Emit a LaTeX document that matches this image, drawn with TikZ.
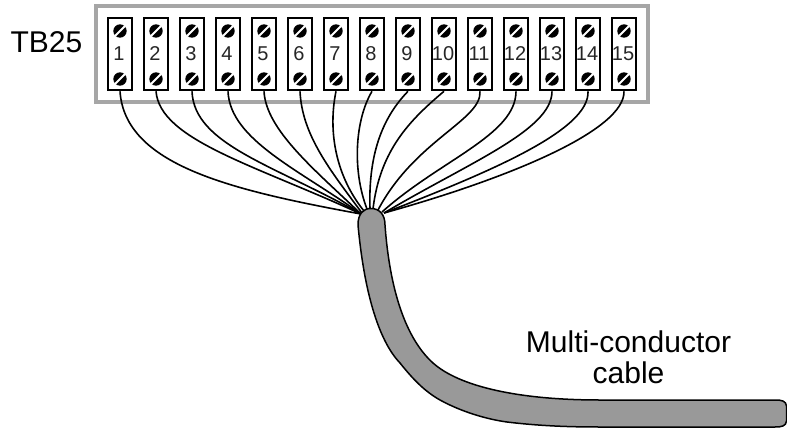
\documentclass[tikz,border=0pt]{standalone}
\usepackage{fontspec}
\setmainfont{Liberation Sans}
\usetikzlibrary{calc}
\definecolor{cablegray}{HTML}{999999}
\definecolor{framegray}{HTML}{A6A6A6}
\tikzset{
  term/.style={draw=black,line width=2pt,fill=white,minimum width=24.6pt,minimum height=72.6pt,inner sep=0pt},
  termnum/.style={font=\fontsize{20}{20}\selectfont,text=black!85,inner sep=0pt},
  frame/.style={draw=framegray,line width=4pt,fill=white},
  wire/.style={draw=black,line width=1.6pt},
  cablebody/.style={draw=black,line width=1.5pt,fill=cablegray,line join=round},
  lbl/.style={font=\fontsize{30}{31}\selectfont,align=center,inner sep=0pt},
}
\newcommand{\screw}[2]{%
  \fill[black] (#1,#2) circle (6.7pt);
  \draw[white,line width=2pt] ($(#1,#2)+(-4.8,4.8)$) -- ($(#1,#2)+(4.8,-4.8)$);
}
\begin{document}
\begin{tikzpicture}[x=1pt,y=-1pt]
\useasboundingbox (0,0) rectangle (787,428);
\node[lbl,anchor=base] (tb) at (46.5,52.7) {TB25};
\draw[frame] (96,6.3) rectangle (648,101.7);
\foreach \i in {1,...,15}{
  \pgfmathsetmacro{\cx}{120+36*(\i-1)}
  \node[term] (t\i) at (\cx,54) {};
  \node[termnum] (n\i) at (\cx-1,53.5) {\i};
  \screw{\cx}{31}
  \screw{\cx}{79}
}
\coordinate (L) at (361,214);
\coordinate (R) at (384,213);
\draw[wire] (t1.south) .. controls (125,165) and (230,190) .. (L);
\draw[wire] (t2.south) .. controls (160,140) and (255,165) .. (L);
\draw[wire] (t3.south) .. controls (194,145) and (275,165) .. (L);
\draw[wire] (t4.south) .. controls (230,140) and (300,170) .. (L);
\draw[wire] (t5.south) .. controls (266,130) and (315,170) .. (L);
\draw[wire] (t6.south) .. controls (302,135) and (330,170) .. (362,213);
\draw[wire] (t7.south) .. controls (328,130) and (335,175) .. (364,211);
\draw[wire] (t8.south) .. controls (355,120) and (352,170) .. (367,209);
\draw[wire] (t9.south) .. controls (385,115) and (368,150) .. (370,209);
\draw[wire] (t10.south) .. controls (410,120) and (380,150) .. (373,209);
\draw[wire] (t11.south) .. controls (482,120) and (415,140) .. (378,210);
\draw[wire] (t12.south) .. controls (516,135) and (440,160) .. (382,212);
\draw[wire] (t13.south) .. controls (552,130) and (470,162) .. (R);
\draw[wire] (t14.south) .. controls (590,130) and (490,172) .. (R);
\draw[wire] (t15.south) .. controls (625,130) and (510,178) .. (R);
\draw[cablebody] (358,225) .. controls (358,214) and (363,208.5) .. (371,208.5)
  .. controls (379,208.5) and (385,214) .. (385,225)
  .. controls (389,280) and (402,335) .. (433,363)
  .. controls (460,387) and (520,400) .. (600,400)
  -- (775,400) .. controls (782,400) and (786,401) .. (786.5,406)
  -- (786.5,421) .. controls (786,426) and (782,427) .. (775,427)
  -- (600,427)
  .. controls (570,427) and (540,426) .. (507,422)
  .. controls (485,419) and (460,411) .. (440,400)
  .. controls (424,391) and (412,378) .. (400,363)
  .. controls (378,340) and (364,290) .. (358,225) -- cycle;
\node[lbl,anchor=base] (cap1) at (628.5,352.7) {Multi-conductor};
\node[lbl,anchor=base] (cap2) at (628.5,383.7) {cable};
\end{tikzpicture}
\end{document}
